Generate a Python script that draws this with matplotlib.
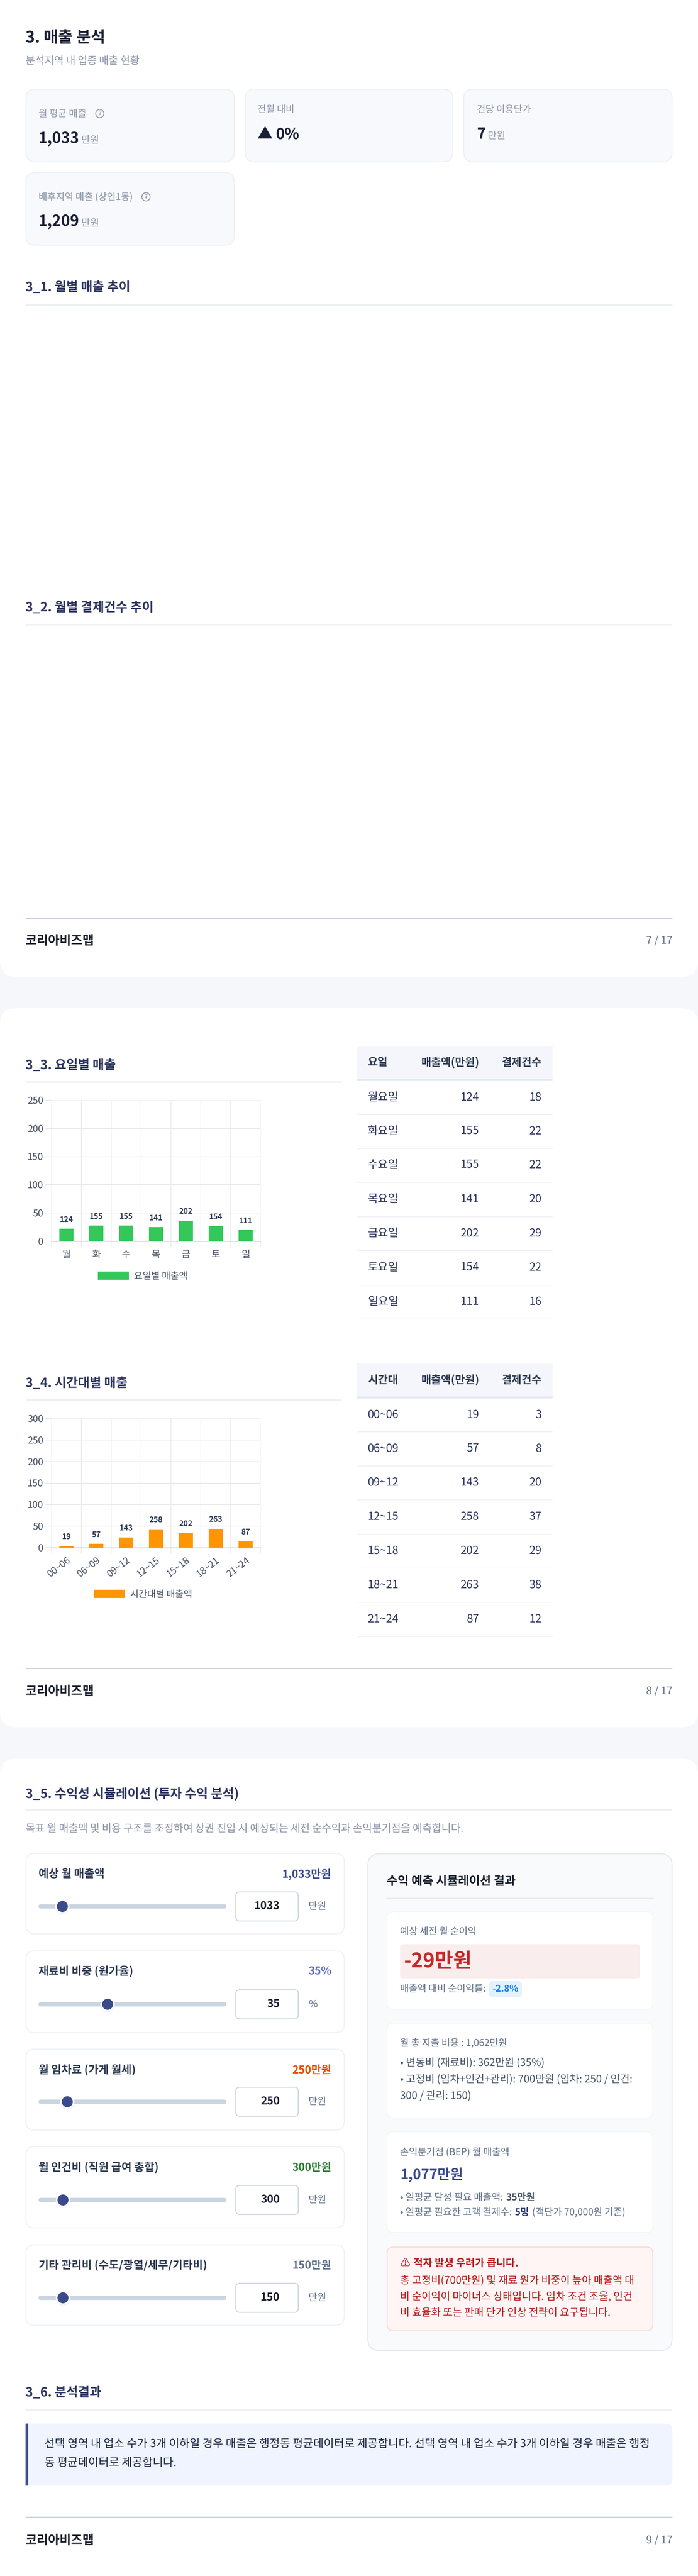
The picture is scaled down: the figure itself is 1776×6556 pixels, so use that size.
import matplotlib
matplotlib.use("Agg")
import matplotlib.pyplot as plt
from matplotlib.patches import FancyBboxPatch, Rectangle, Circle

FONT = ['Noto Sans CJK KR', 'DejaVu Sans']
plt.rcParams['font.family'] = FONT
plt.rcParams['text.hinting'] = 'no_hinting'
plt.rcParams['text.hinting_factor'] = 1
W, H, DPI = 1776, 6556, 100

# ---------- data ----------
day_labels = ['월', '화', '수', '목', '금', '토', '일']
day_names = ['월요일', '화요일', '수요일', '목요일', '금요일', '토요일', '일요일']
day_sales = [124, 155, 155, 141, 202, 154, 111]
day_counts = [18, 22, 22, 20, 29, 22, 16]
day_bar_heights = [22, 27.7, 27.7, 25.2, 36, 27.5, 20]

time_labels = ['00~06', '06~09', '09~12', '12~15', '15~18', '18~21', '21~24']
time_sales = [19, 57, 143, 258, 202, 263, 87]
time_counts = [3, 8, 20, 37, 29, 38, 12]
time_bar_heights = [3.2, 9.5, 23.8, 43, 33.7, 43.8, 14.5]

slider_labels = ['예상 월 매출액', '재료비 비중 (원가율)', '월 임차료 (가게 월세)',
                 '월 인건비 (직원 급여 총합)', '기타 관리비 (수도/광열/세무/기타비)']
slider_values = [1033, 35, 250, 300, 150]
slider_maxes = [10700, 98, 2000, 3000, 1500]
slider_display = ['1,033만원', '35%', '250만원', '300만원', '150만원']
slider_units = ['만원', '%', '만원', '만원', '만원']
slider_colors = ['#3b4a8b', '#5c6bc0', '#e65100', '#2e7d32', '#64748b']

# ---------- palette ----------
BG = '#f5f7fb'; NAVY = '#2d3561'; DARK = '#1a2035'; GRAY = '#8d97a8'
SLATE = '#64748b'; RULE = '#eef0f5'; INDIGO = '#3b4a8b'

fig = plt.figure(figsize=(W / DPI, H / DPI), dpi=DPI, facecolor=BG)
page = fig.add_axes([0, 0, 1, 1])
page.set_xlim(0, W); page.set_ylim(H, 0); page.axis('off')
RENDERER = fig.canvas.get_renderer()


def px(v):
    return v * 72 / DPI


def fit(s, width, w='normal'):
    """Pixel font size at which string s is `width` pixels wide."""
    size = 30.0
    t = page.text(0, 0, s, fontsize=px(size), fontweight=w, family=FONT)
    for _ in range(3):
        e = t.get_window_extent(RENDERER).width
        size = size * width / e
        t.set_fontsize(px(size))
    t.remove()
    return size


def box(x0, y0, x1, y1, r=0, fc='white', ec='none', lw=0, z=1):
    page.add_patch(FancyBboxPatch((x0, y0), x1 - x0, y1 - y0,
                                  boxstyle=f'round,pad=0,rounding_size={r}',
                                  fc=fc, ec=ec, lw=px(lw), zorder=z))


def rule(x0, y0, x1, y1, c=RULE, z=2):
    page.add_patch(Rectangle((x0, y0), x1 - x0, y1 - y0, fc=c, ec='none', zorder=z))


def txt(x, y, s, size=26, c=DARK, w='normal', ha='left', va='center'):
    return page.text(x, y, s, fontsize=px(size), color=c, fontweight=w, ha=ha, va=va,
                     family=FONT, zorder=5)


def runs(x, base, parts):
    """Write text pieces one after another on one baseline."""
    for s, size, c, w, gap in parts:
        t = txt(x, base, s, size, c, w, va='baseline')
        x = t.get_window_extent(RENDERER).x1 + gap
    return x


S_TITLE = fit('3. 매출 분석', 203, 'bold')
S_SUB = fit('분석지역 내 업종 매출 현황', 290)
S_CARD = fit('배후지역 매출 (상인1동)', 240)
S_VALUE = fit('1,033', 104, 'bold')
S_UNIT = fit('만원', 45)
S_SEC = fit('3_2. 월별 결제건수 추이', 326, 'bold')
S_FOOT = fit('코리아비즈맵', 175, 'bold')
S_PAGE = fit('7 / 17', 67)
S_TABLE = fit('월요일', 78)
S_HEAD = fit('매출액(만원)', 148, 'bold')
S_NOTE5 = fit('목표 월 매출액 및 비용 구조를 조정하여 상권 진입 시 예상되는 세전 순수익과', 826)
S_SLIDER = fit('기타 관리비 (수도/광열/세무/기타비)', 429, 'bold')
S_SVAL = fit('1,033만원', 125, 'bold')
S_INPUT = fit('1033', 65, 'bold')
S_PANEL = fit('수익 예측 시뮬레이션 결과', 328, 'bold')
S_SMALL = fit('예상 세전 월 순이익', 194)
S_LOSS = fit('-29만원', 173, 'bold')
S_PILL = fit('-2.8%', 67, 'bold')
S_COST = fit('• 고정비 (임차+인건+관리): 700만원 (임차: 250 / 인건:', 591)
S_BEP = fit('1,077만원', 160, 'bold')
S_BEPL = fit('• 일평균 달성 필요 매출액:', 262)
S_WARN = fit('총 고정비(700만원) 및 재료 원가 비중이 높아 매출액 대', 596)
S_WARNB = fit('적자 발생 우려가 큽니다.', 267, 'bold')
S_BODY = fit('선택 영역 내 업소 수가 3개 이하일 경우 매출은 행정동 평균데이터로 제공합니다. 선택 영역 내 업소 수가 3개 이하일 경우 매출은 행정', 1541)
S_TICK = fit('250', 40)
S_DATA = fit('124', 34.5, 'bold')
S_LEG1 = fit('요일별 매출액', 136)
S_LEG2 = fit('시간대별 매출액', 158)


def section(y_text, y_rule, s, x1=1711):
    txt(65, y_text, s, S_SEC, NAVY, 'bold')
    rule(65, y_rule - 2, x1, y_rule + 2)


def footer(y_rule, y_text, s):
    rule(65, y_rule - 1.5, 1711, y_rule + 1.5, '#cbd5e1')
    txt(65, y_text, '코리아비즈맵', S_FOOT, '#1a202c', 'bold')
    txt(1711, y_text, s, S_PAGE, SLATE, ha='right')


def help_icon(x, y):
    page.add_patch(Circle((x, y), 10.5, fc='none', ec='#8d97a8', lw=px(2.2), zorder=5))
    txt(x, y, '?', 15, '#8d97a8', 'bold', ha='center')


# ---------- page cards ----------
box(0, -60, W, 2486, 40)
box(0, 2566, W, 4396, 40)
box(0, 4476, W, 6640, 40)

# ---------- page 7 ----------
txt(65, 97, '3. 매출 분석', S_TITLE, DARK, 'bold')
txt(65, 156, '분석지역 내 업종 매출 현황', S_SUB, GRAY)

for (x0, y0, x1, y1) in [(66, 227, 596, 412), (624, 227, 1152, 412),
                         (1180, 227, 1710, 412), (66, 439, 596, 624)]:
    box(x0, y0, x1, y1, 24, '#f8f9fd', '#eef0f5', 2.5)

txt(98, 289, '월 평균 매출', S_CARD, GRAY); help_icon(254, 289)
runs(98, 364, [('1,033', S_VALUE, DARK, 'bold', 5), ('만원', S_UNIT, GRAY, 'normal', 0)])
txt(655, 279, '전월 대비', S_CARD, GRAY)
runs(655, 353, [('▲', S_VALUE, DARK, 'bold', 8), ('0%', S_VALUE, DARK, 'bold', 0)])
txt(1213, 279, '건당 이용단가', S_CARD, GRAY)
runs(1213, 353, [('7', S_VALUE, DARK, 'bold', 5), ('만원', S_UNIT, GRAY, 'normal', 0)])
txt(98, 501, '배후지역 매출 (상인1동)', S_CARD, GRAY); help_icon(371.5, 501)
runs(98, 575, [('1,209', S_VALUE, DARK, 'bold', 5), ('만원', S_UNIT, GRAY, 'normal', 0)])

section(732, 776, '3_1. 월별 매출 추이')
section(1547, 1590, '3_2. 월별 결제건수 추이')
footer(2337, 2395, '7 / 17')


# ---------- bar charts ----------
def bar_chart(y_top, y_zero, ymax, yticks, labels, heights, values, color, legend,
              legend_x, legend_y, legend_size, rotate):
    ax = fig.add_axes([131 / W, 1 - y_zero / H, 532 / W, (y_zero - y_top) / H], zorder=3)
    ax.patch.set_alpha(0)
    pos = list(range(len(labels)))
    ax.bar(pos, heights, width=0.48, color=color, zorder=3, label=legend)
    ax.set_xlim(-0.5, len(labels) - 0.5)
    ax.set_ylim(0, ymax)
    ax.set_yticks(yticks)
    ax.set_xticks(pos)
    if rotate:
        ax.set_xticklabels(labels, rotation=38, ha='right', rotation_mode='anchor')
    else:
        ax.set_xticklabels(labels)
    ax.set_xticks([p - 0.5 for p in pos] + [len(labels) - 0.5], minor=True)
    ax.grid(True, axis='y', color='#e8e8e8', lw=px(2), zorder=1)
    ax.grid(True, axis='x', which='minor', color='#e8e8e8', lw=px(1.6), zorder=1)
    ax.tick_params(axis='x', which='major', length=0, pad=px(22 if not rotate else 20),
                   labelsize=px(S_TICK), labelcolor='#4a5568')
    ax.tick_params(axis='x', which='minor', length=px(15), width=px(1.6), color='#e8e8e8')
    ax.tick_params(axis='y', length=px(16), width=px(2), color='#e8e8e8',
                   labelsize=px(S_TICK), labelcolor='#4a5568', pad=px(5))
    for s in ax.spines.values():
        s.set_visible(False)
    ax.axhline(0, color='#d8d8d8', lw=px(2.5), zorder=2, clip_on=False)
    ax.axvline(-0.5, color='#dadada', lw=px(2), zorder=2)
    for p, h, v in zip(pos, heights, values):
        ax.annotate(str(v), (p, h), xytext=(0, px(23)), textcoords='offset points',
                    ha='center', va='center', fontsize=px(S_DATA), fontweight='bold',
                    color='#2d3a52', zorder=6)
    leg = ax.legend(loc='center', bbox_to_anchor=(legend_x, legend_y),
                    bbox_transform=page.transData, frameon=False,
                    fontsize=px(legend_size), handlelength=79 / legend_size,
                    handleheight=24 / legend_size, handletextpad=13 / legend_size,
                    borderpad=0, borderaxespad=0)
    for t in leg.get_texts():
        t.set_color('#4a5568')
    return ax


def table(x0, x1, head_y0, head_y1, row_lines, head, names, sales, counts):
    rule(x0, head_y0, x1, head_y1, '#f4f6fb')
    rule(x0, head_y1, x1, head_y1 + 5, '#e2e8f0')
    yc = (head_y0 + head_y1) / 2
    txt(x0 + 28, yc, head, S_HEAD, '#2d3a52', 'bold')
    txt(1219, yc, '매출액(만원)', S_HEAD, '#2d3a52', 'bold', ha='right')
    txt(1378, yc, '결제건수', S_HEAD, '#2d3a52', 'bold', ha='right')
    prev = head_y1 + 5
    for ln, n, s, c in zip(row_lines, names, sales, counts):
        rule(x0, ln - 1, x1, ln + 1, '#eef0f5')
        y = (prev + ln) / 2 - 1
        txt(x0 + 28, y, n, S_TABLE, NAVY)
        txt(1219, y, str(s), S_TABLE, NAVY, ha='right')
        txt(1378, y, str(c), S_TABLE, NAVY, ha='right')
        prev = ln


section(2712, 2754, '3_3. 요일별 매출', 868)
bar_chart(2800, 3159, 250, [0, 50, 100, 150, 200, 250], day_labels, day_bar_heights,
          day_sales, '#34c759', '요일별 매출액', 363.5, 3248, S_LEG1, False)
table(908, 1406, 2662, 2746, [2837, 2922.5, 3009, 3097, 3183, 3271, 3357],
      '요일', day_names, day_sales, day_counts)

section(3520.5, 3563, '3_4. 시간대별 매출', 868)
bar_chart(3610, 3939, 300, [0, 50, 100, 150, 200, 250, 300], time_labels, time_bar_heights,
          time_sales, '#ff9500', '시간대별 매출액', 363.5, 4058, S_LEG2, True)
table(908, 1406, 3470, 3554, [3644, 3731, 3816.5, 3905, 3990.6, 4078, 4165],
      '시간대', time_labels, time_sales, time_counts)
footer(4246, 4305, '8 / 17')

# ---------- page 9 : simulator ----------
section(4566, 4606, '3_5. 수익성 시뮬레이션 (투자 수익 분석)')
txt(65, 4654, '목표 월 매출액 및 비용 구조를 조정하여 상권 진입 시 예상되는 세전 순수익과 손익분기점을 예측합니다.', S_NOTE5, GRAY)

card_tops = [4717, 4965, 5215, 5463, 5713]
card_bots = [4922, 5173, 5421, 5670, 5918]
label_ys = [4770.5, 5018, 5269, 5517, 5766]
track_ys = [4852, 5101, 5349, 5599, 5848]
TRACK0, TRACK1, THUMB_R = 98, 576, 18
for i in range(5):
    box(66, card_tops[i], 876, card_bots[i], 22, 'white', '#eef1f5', 2.5)
    txt(98, label_ys[i], slider_labels[i], S_SLIDER, '#2d3a52', 'bold')
    txt(843, label_ys[i], slider_display[i], S_SVAL, slider_colors[i], 'bold', ha='right')
    ty = track_ys[i]
    box(TRACK0, ty - 5.5, TRACK1, ty + 5.5, 5.5, '#cbd5e1', z=2)
    cx = TRACK0 + THUMB_R + (TRACK1 - TRACK0 - 2 * THUMB_R) * slider_values[i] / slider_maxes[i]
    page.add_patch(Circle((cx, ty + 1), 18.5, fc='#d8dde6', ec='none', zorder=3, alpha=.6))
    page.add_patch(Circle((cx, ty), 18, fc='white', ec='none', zorder=3))
    page.add_patch(Circle((cx, ty), 14, fc=INDIGO, ec='none', zorder=4))
    box(600, ty - 37, 759, ty + 37, 10, 'white', '#cbd5e1', 2.5, z=2)
    txt(712, ty, str(slider_values[i]), S_INPUT, '#1a202c', 'bold', ha='right')
    txt(785, ty, slider_units[i], S_UNIT, SLATE)

# result panel
box(936, 4718, 1710, 5982, 30, '#f8fafc', '#e2e8f0', 2.5)
txt(984, 4788, '수익 예측 시뮬레이션 결과', S_PANEL, '#1a202c', 'bold')
rule(984, 4830, 1662, 4832, '#e2e8f0')

box(985, 4865, 1661, 5115, 16, 'white', '#f1f5f9', 2)
txt(1018, 4916, '예상 세전 월 순이익', S_SMALL, SLATE)
box(1018, 4948, 1628, 5035, 6, '#faeded', z=2)
txt(1027, 4992, '-29만원', S_LOSS, '#c62828', 'bold')
txt(1018, 5062, '매출액 대비 순이익률:', S_SMALL, SLATE)
box(1244, 5042, 1328, 5083, 10, '#e3f2fd', z=2)
txt(1286, 5062.5, '-2.8%', S_PILL, '#0a7cff', 'bold', ha='center')

box(985, 5149, 1661, 5390, 16, 'white', '#f1f5f9', 2)
txt(1018, 5200, '월 총 지출 비용 : 1,062만원', S_SMALL, SLATE)
txt(1018, 5251, '• 변동비 (재료비): 362만원 (35%)', S_COST, '#475569')
txt(1018, 5293, '• 고정비 (임차+인건+관리): 700만원 (임차: 250 / 인건:', S_COST, '#475569')
txt(1018, 5335, '300 / 관리: 150)', S_COST, '#475569')

box(985, 5425, 1661, 5682, 16, 'white', '#f1f5f9', 2)
txt(1018, 5477, '손익분기점 (BEP) 월 매출액', S_SMALL, SLATE)
txt(1018, 5535, '1,077만원', S_BEP, INDIGO, 'bold')
runs(1018, 5600, [('• 일평균 달성 필요 매출액:', S_BEPL, SLATE, 'normal', 7),
                  ('35만원', S_BEPL, '#475569', 'bold', 0)])
runs(1018, 5638, [('• 일평균 필요한 고객 결제수:', S_BEPL, SLATE, 'normal', 7),
                  ('5명', S_BEPL, '#2d3a6e', 'bold', 8),
                  ('(객단가 70,000원 기준)', S_BEPL, SLATE, 'normal', 0)])

box(985, 5719, 1661, 5932, 16, '#fff5f5', '#fed7d7', 2.5)
txt(1018, 5761, '⚠', 25, '#b71c1c')
txt(1052, 5761, '적자 발생 우려가 큽니다.', S_WARNB, '#b71c1c', 'bold')
txt(1018, 5804, '총 고정비(700만원) 및 재료 원가 비중이 높아 매출액 대', S_WARN, '#b71c1c')
txt(1018, 5845, '비 순이익이 마이너스 상태입니다. 임차 조건 조율, 인건', S_WARN, '#b71c1c')
txt(1018, 5886, '비 효율화 또는 판매 단가 인상 전략이 요구됩니다.', S_WARN, '#b71c1c')

section(6090, 6134, '3_6. 분석결과')
box(65, 6168, 1711, 6326, 16, '#f0f4ff')
rule(65, 6168, 81, 6326, '#f0f4ff')
rule(65, 6168, 72, 6326, INDIGO, z=3)
txt(113, 6221, '선택 영역 내 업소 수가 3개 이하일 경우 매출은 행정동 평균데이터로 제공합니다. 선택 영역 내 업소 수가 3개 이하일 경우 매출은 행정', S_BODY, '#1f2a44')
txt(113, 6269, '동 평균데이터로 제공합니다.', S_BODY, '#1f2a44')
footer(6406, 6466, '9 / 17')

fig.savefig('out.png', dpi=DPI, facecolor=BG)
